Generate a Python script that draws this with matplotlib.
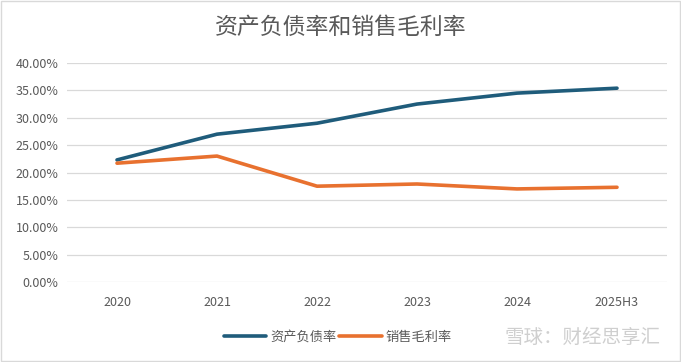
import matplotlib
matplotlib.use("Agg")
import matplotlib.pyplot as plt
from matplotlib.patches import Rectangle
from matplotlib.ticker import FuncFormatter

plt.rcParams["font.family"] = ["Noto Sans CJK SC", "DejaVu Sans"]

years = ["2020", "2021", "2022", "2023", "2024", "2025H3"]
debt_ratio = [22.3, 27.0, 29.0, 32.5, 34.5, 35.4]
gross_margin = [21.7, 23.0, 17.5, 17.9, 17.0, 17.3]
yticks = [0, 5, 10, 15, 20, 25, 30, 35, 40]

BLUE = "#1F5C7B"
ORANGE = "#E8712F"
GREY = "#595959"

fig = plt.figure(figsize=(6.81, 3.62), dpi=100)
ax = fig.add_axes([67 / 681, 1 - 282 / 362, 600 / 681, (282 - 63) / 362])

x = range(len(years))
ax.plot(x, debt_ratio, color=BLUE, linewidth=2.6, solid_capstyle="round", label="资产负债率")
ax.plot(x, gross_margin, color=ORANGE, linewidth=2.6, solid_capstyle="round", label="销售毛利率")

ax.set_xlim(-0.5, len(years) - 0.5)
ax.set_ylim(0, 40)
ax.set_yticks(yticks)
ax.yaxis.set_major_formatter(FuncFormatter(lambda v, p: f"{v:.2f}%"))
ax.set_xticks(list(x))
ax.set_xticklabels(years)
ax.tick_params(length=0, labelsize=9, colors=GREY, pad=6)
ax.tick_params(axis="x", pad=10)
ax.grid(True, axis="y", color="#D9D9D9", linewidth=0.9)
ax.set_axisbelow(True)
for s in ax.spines.values():
    s.set_visible(False)

fig.text(0.5, 1 - 27 / 362, "资产负债率和销售毛利率", ha="center", va="center",
         fontsize=16.5, color=GREY)

fig.legend(loc="center", bbox_to_anchor=(338 / 681, 1 - 337 / 362), ncol=2,
           frameon=False, fontsize=9.5, labelcolor=GREY, handlelength=3.2,
           handletextpad=0.3, columnspacing=0.2)

fig.text(0.97, 1 - 337 / 362, "雪球：财经思享汇", ha="right", va="center",
         fontsize=14, color="#CFCFCF")

fig.patches.append(Rectangle((0.002, 0.003), 0.996, 0.994, transform=fig.transFigure,
                             fill=False, edgecolor="#D9D9D9", linewidth=1))

fig.savefig("out.png", dpi=100)
